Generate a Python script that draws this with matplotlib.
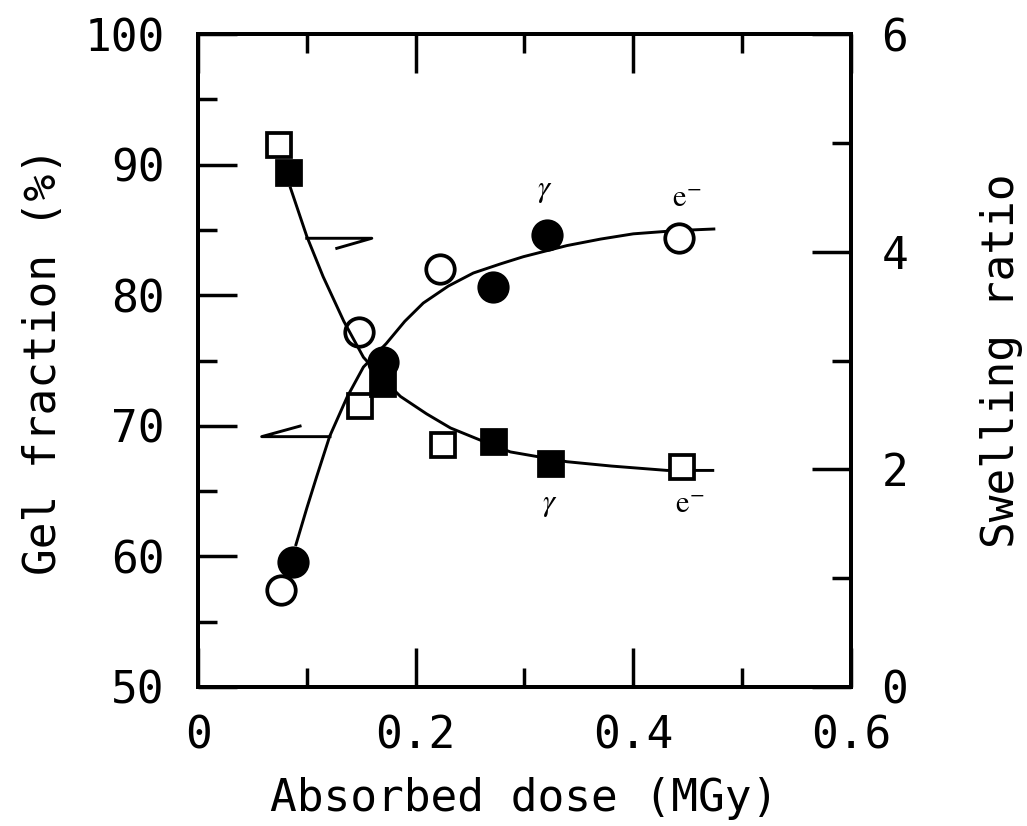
import matplotlib
matplotlib.use("Agg")
import matplotlib.pyplot as plt
from matplotlib.ticker import MultipleLocator

plt.rcParams['font.family'] = 'DejaVu Sans Mono'
plt.rcParams['mathtext.fontset'] = 'stix'

# gel fraction (%) - circles, left axis
gel_gamma_x = [0.087, 0.170, 0.271, 0.321]
gel_gamma_y = [59.6, 74.9, 80.6, 84.6]
gel_e_x = [0.076, 0.148, 0.222, 0.442]
gel_e_y = [57.4, 77.2, 82.0, 84.4]

# swelling ratio - squares, right axis
sw_gamma_x = [0.084, 0.170, 0.272, 0.324]
sw_gamma_y = [4.72, 2.78, 2.25, 2.05]
sw_e_x = [0.074, 0.149, 0.225, 0.445]
sw_e_y = [4.98, 2.58, 2.22, 2.02]

# hand drawn fit curves
gel_fit_x = [0.090, 0.100, 0.109, 0.121, 0.137, 0.152, 0.173, 0.190, 0.207, 0.230,
             0.253, 0.278, 0.299, 0.339, 0.370, 0.400, 0.440, 0.474]
gel_fit_y = [60.9, 63.7, 66.1, 69.2, 72.2, 74.5, 76.3, 78.0, 79.4, 80.7,
             81.7, 82.4, 82.95, 83.8, 84.3, 84.7, 84.95, 85.07]
sw_fit_x = [0.085, 0.100, 0.115, 0.134, 0.152, 0.170, 0.186, 0.210, 0.232, 0.259,
            0.287, 0.339, 0.380, 0.431, 0.473]
sw_fit_y = [4.585, 4.14, 3.77, 3.36, 3.03, 2.83, 2.67, 2.51, 2.38, 2.27,
            2.16, 2.07, 2.03, 1.99, 1.99]

fig = plt.figure(figsize=(10.27, 8.26), dpi=100)
ax = fig.add_axes([0.1928, 0.1683, 0.6358, 0.7905])
ax2 = ax.twinx()

ax.set_xlim(0, 0.6)
ax.set_ylim(50, 100)
ax2.set_ylim(0, 6)

ax.plot(gel_fit_x, gel_fit_y, color='black', lw=2.1, zorder=2)
ax2.plot(sw_fit_x, sw_fit_y, color='black', lw=2.1, zorder=2)

ax.plot(gel_e_x, gel_e_y, 'o', ms=20.5, mfc='white', mec='black', mew=2.7, zorder=3)
ax.plot(gel_gamma_x, gel_gamma_y, 'o', ms=20.5, mfc='black', mec='black', mew=2.7, zorder=3)
ax2.plot(sw_e_x, sw_e_y, 's', ms=17.5, mfc='white', mec='black', mew=2.7, zorder=3)
ax2.plot(sw_gamma_x, sw_gamma_y, 's', ms=17.5, mfc='black', mec='black', mew=2.7, zorder=3)

# axis pointers
ax.plot([0.0999, 0.1597, 0.1275], [84.36, 84.36, 83.59], color='black', lw=2.1)
ax.plot([0.1213, 0.0585, 0.0938], [69.17, 69.17, 69.98], color='black', lw=2.1)

# radiation labels
ax.text(0.319, 88.0, r'$\gamma$', fontsize=22, ha='center', va='center')
ax.text(0.449, 87.4, r'$\mathrm{e}^{-}$', fontsize=22, ha='center', va='center')
ax.text(0.323, 64.0, r'$\gamma$', fontsize=22, ha='center', va='center')
ax.text(0.452, 64.0, r'$\mathrm{e}^{-}$', fontsize=22, ha='center', va='center')

ax.xaxis.set_major_locator(MultipleLocator(0.2))
ax.xaxis.set_minor_locator(MultipleLocator(0.1))
ax.yaxis.set_major_locator(MultipleLocator(10))
ax.yaxis.set_minor_locator(MultipleLocator(5))
ax2.yaxis.set_major_locator(MultipleLocator(2))
ax2.yaxis.set_minor_locator(MultipleLocator(1))

ax.set_xticks([0, 0.2, 0.4, 0.6])
ax.set_xticklabels(['0', '0.2', '0.4', '0.6'])

ax.tick_params(axis='x', which='both', direction='in', top=True, bottom=True)
ax.tick_params(axis='y', which='both', direction='in', left=True, right=False)
ax.tick_params(which='major', length=28, width=2.5, labelsize=32)
ax.tick_params(which='minor', length=14, width=2.5)
ax.tick_params(axis='x', which='major', pad=20)
ax.tick_params(axis='y', which='major', pad=24)
ax2.tick_params(which='both', direction='in', width=2.5)
ax2.tick_params(which='major', length=28, labelsize=32, pad=22)
ax2.tick_params(which='minor', length=14)

for a in (ax, ax2):
    for s in a.spines.values():
        s.set_linewidth(2.8)

ax.set_xlabel('Absorbed dose (MGy)', fontsize=32, labelpad=14)
ax.set_ylabel('Gel fraction (%)', fontsize=32, labelpad=14)
ax2.set_ylabel('Swelling ratio', fontsize=32, labelpad=52)

fig.savefig('out.png', dpi=100)
